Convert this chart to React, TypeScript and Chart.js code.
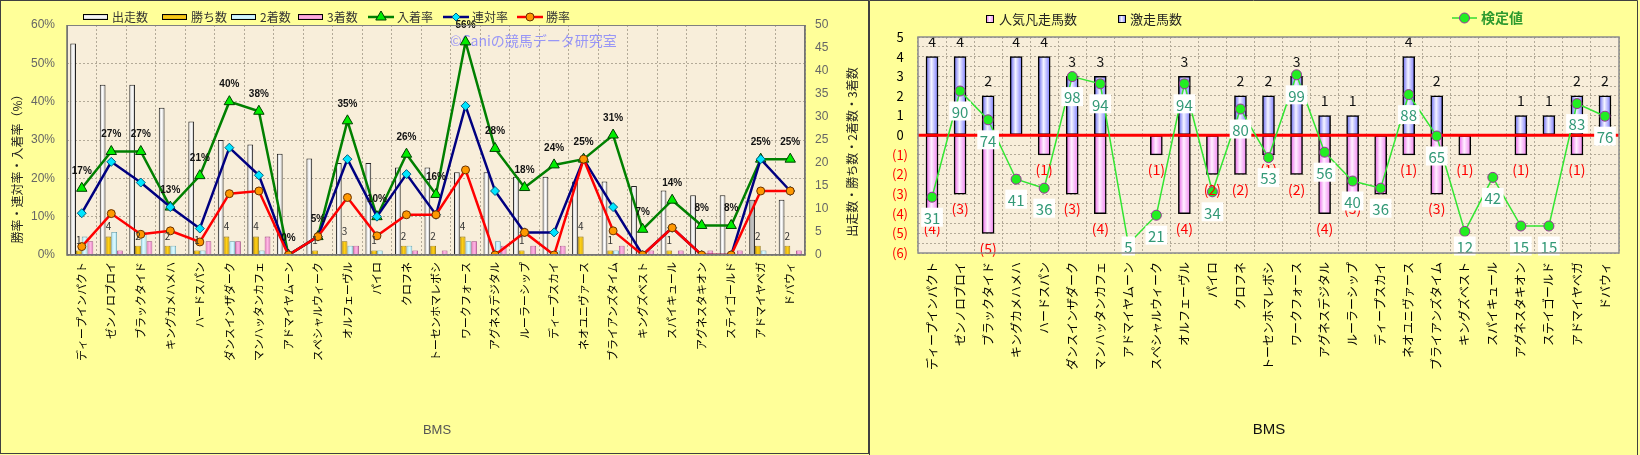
import React, { useEffect, useRef } from "react";
import { Chart, registerables } from "chart.js";
Chart.register(...registerables);

// ---------------- data ----------------
const categories = [
  "ディープインパクト", "ゼンノロブロイ", "ブラックタイド", "キングカメハメハ", "ハードスパン",
  "ダンスインザダーク", "マンハッタンカフェ", "アドマイヤムーン", "スペシャルウィーク", "オルフェーヴル",
  "パイロ", "クロフネ", "トーセンホマレボシ", "ワークフォース", "アグネスデジタル",
  "ルーラーシップ", "ディープスカイ", "ネオユニヴァース", "ブライアンズタイム", "キングズベスト",
  "スパイキュール", "アグネスタキオン", "ステイゴールド", "アドマイヤベガ", "ドバウィ",
];

// left chart (counts on right axis)
const starts = [46, 37, 37, 32, 29, 25, 24, 22, 21, 20, 20, 19, 19, 18, 18, 17, 17, 16, 16, 15, 14, 13, 13, 12, 12];
const wins = [1, 4, 2, 2, 1, 4, 4, 0, 1, 3, 1, 2, 2, 4, 0, 1, 0, 4, 1, 0, 1, 0, 0, 2, 2];
const seconds = [4, 5, 5, 2, 1, 3, 1, 0, 0, 2, 1, 2, 0, 3, 3, 0, 1, 0, 1, 0, 0, 0, 0, 1, 0];
const thirds = [3, 1, 3, 0, 3, 3, 4, 0, 0, 2, 0, 1, 1, 3, 2, 2, 2, 0, 2, 1, 1, 1, 1, 0, 1];
// left chart (rates, %)
const placeRate = [17.4, 27.0, 27.0, 12.5, 20.7, 40.0, 37.5, 0, 4.8, 35.0, 10.0, 26.3, 15.8, 55.6, 27.8, 17.6, 23.5, 25.0, 31.3, 6.7, 14.3, 7.7, 7.7, 25.0, 25.0];
const placeRateLabels = [17, 27, 27, 13, 21, 40, 38, 0, 5, 35, 10, 26, 16, 56, 28, 18, 24, 25, 31, 7, 14, 8, 8, 25, 25];
const top2Rate = [10.9, 24.3, 18.9, 12.5, 6.9, 28.0, 20.8, 0, 4.8, 25.0, 10.0, 21.1, 10.5, 38.9, 16.7, 5.9, 5.9, 25.0, 12.5, 0, 7.1, 0, 0, 25.0, 16.7];
const winRate = [2.2, 10.8, 5.4, 6.3, 3.4, 16.0, 16.7, 0, 4.8, 15.0, 5.0, 10.5, 10.5, 22.2, 0, 5.9, 0, 25.0, 6.3, 0, 7.1, 0, 0, 16.7, 16.7];
const leftPctTicks = [0, 10, 20, 30, 40, 50, 60];
const leftCountTicks = [0, 5, 10, 15, 20, 25, 30, 35, 40, 45, 50];

// right chart
const hotRuns = [4, 4, 2, 4, 4, 3, 3, 0, 0, 3, 0, 2, 2, 3, 1, 1, 0, 4, 2, 0, 0, 1, 1, 2, 2];
const popularFlops = [-4, -3, -5, 0, -1, -3, -4, 0, -1, -4, -2, -2, -1, -2, -4, -3, -3, -1, -3, -1, 0, -1, 0, -1, 0];
const kentei = [31, 90, 74, 41, 36, 98, 94, 5, 21, 94, 34, 80, 53, 99, 56, 40, 36, 88, 65, 12, 42, 15, 15, 83, 76];

// ---------------- styles ----------------
const JP = "'Noto Sans CJK JP', 'Noto Sans', sans-serif";
const PLOT_BG = "#F8EEDA";
const GRID = "#B3AA98";

type Stops = [number, string][];
function hGrad(ctx: CanvasRenderingContext2D, x0: number, x1: number, stops: Stops) {
  const g = ctx.createLinearGradient(x0, 0, x1, 0);
  stops.forEach(([o, c]) => g.addColorStop(o, c));
  return g;
}

const CAT_PCT = 0.78;
function leftBarFill(k: number, stops: Stops, alt?: { index: number; stops: Stops }) {
  return (c: any) => {
    const chart = c.chart;
    const xs = chart.scales && chart.scales.x;
    if (!xs || c.type !== "data" || !chart.chartArea) return stops[1][1];
    const W = (xs.right - xs.left) / categories.length;
    const cx = xs.getPixelForValue(c.dataIndex);
    const bw = (W * CAT_PCT) / 4;
    const l = cx - (W * CAT_PCT) / 2 + bw * k;
    const s = alt && alt.index === c.dataIndex ? alt.stops : stops;
    return hGrad(chart.ctx, l, l + bw, s);
  };
}

function rightBarFill(stops: Stops, half: number) {
  return (c: any) => {
    const chart = c.chart;
    const xs = chart.scales && chart.scales.x;
    if (!xs || c.type !== "data" || !chart.chartArea) return stops[1][1];
    const cx = xs.getPixelForValue(c.dataIndex);
    return hGrad(chart.ctx, cx - half, cx + half, stops);
  };
}

function drawMarker(ctx: CanvasRenderingContext2D, kind: string, x: number, y: number, r: number, fill: string, stroke: string) {
  ctx.save();
  ctx.beginPath();
  if (kind === "triangle") {
    ctx.moveTo(x, y - r);
    ctx.lineTo(x + r * 0.87, y + r * 0.5);
    ctx.lineTo(x - r * 0.87, y + r * 0.5);
    ctx.closePath();
  } else if (kind === "diamond") {
    ctx.moveTo(x, y - r);
    ctx.lineTo(x + r, y);
    ctx.lineTo(x, y + r);
    ctx.lineTo(x - r, y);
    ctx.closePath();
  } else {
    ctx.arc(x, y, r, 0, Math.PI * 2);
  }
  ctx.fillStyle = fill;
  ctx.fill();
  ctx.strokeStyle = stroke;
  ctx.lineWidth = 1;
  ctx.stroke();
  ctx.restore();
}

const WHITE_BAR: Stops = [[0, "#C4C4C4"], [0.5, "#FFFFFF"], [1, "#B4B4B4"]];
const GRAY_BAR: Stops = [[0, "#8C8C8C"], [0.5, "#C8C8C8"], [1, "#9A9A9A"]];
const GOLD_BAR: Stops = [[0, "#C89800"], [0.5, "#FFD21A"], [1, "#D0A000"]];
const CYAN_BAR: Stops = [[0, "#9ADCF0"], [0.5, "#E0FAFF"], [1, "#A0E0F0"]];
const PINK_BAR: Stops = [[0, "#E070B8"], [0.5, "#FFB8E4"], [1, "#E078C0"]];
const BLUE_R: Stops = [[0, "#6060F0"], [0.45, "#F4F4FF"], [1, "#7878FF"]];
const PINK_R: Stops = [[0, "#E860E8"], [0.45, "#FFF0FF"], [1, "#F080F0"]];

// ---------------- left chart ----------------
const leftPlugin = {
  id: "leftDecor",
  beforeDraw(chart: any) {
    const { ctx, chartArea: a } = chart;
    ctx.save();
    ctx.fillStyle = PLOT_BG;
    ctx.fillRect(a.left, a.top, a.right - a.left, a.bottom - a.top);
    ctx.restore();
  },
  beforeDatasetsDraw(chart: any) {
    const { ctx } = chart;
    ctx.save();
    ctx.font = `14px ${JP}`;
    ctx.fillStyle = "rgba(120,120,255,0.75)";
    ctx.textAlign = "left";
    ctx.textBaseline = "middle";
    ctx.fillText("©Caniの競馬データ研究室", 450, 41);
    ctx.restore();
  },
  afterDatasetsDraw(chart: any) {
    const { ctx } = chart;
    ctx.save();
    ctx.textAlign = "center";
    ctx.textBaseline = "middle";
    // win counts
    const mw = chart.getDatasetMeta(4);
    ctx.font = `10px ${JP}`;
    ctx.fillStyle = "#333";
    wins.forEach((v, i) => {
      if (v > 0) {
        const el = mw.data[i];
        ctx.fillText(String(v), el.x, el.y - 10);
      }
    });
    // place rate labels
    const mp = chart.getDatasetMeta(2);
    ctx.font = `bold 10px 'Liberation Sans', sans-serif`;
    ctx.fillStyle = "#111";
    placeRateLabels.forEach((v, i) => {
      const el = mp.data[i];
      ctx.fillText(`${v}%`, el.x, el.y - 17);
    });
    ctx.restore();
  },
  afterDraw(chart: any) {
    const { ctx, chartArea: a } = chart;
    ctx.save();
    // plot border
    ctx.strokeStyle = "#808080";
    ctx.lineWidth = 1;
    ctx.strokeRect(a.left + 0.5, a.top + 0.5, a.right - a.left - 1, a.bottom - a.top - 1);
    ctx.strokeStyle = "#707070";
    ctx.lineWidth = 1.5;
    ctx.beginPath();
    ctx.moveTo(a.left, a.top);
    ctx.lineTo(a.left, a.bottom);
    ctx.lineTo(a.right, a.bottom);
    ctx.lineTo(a.right, a.top);
    ctx.stroke();

    // legend
    ctx.textBaseline = "middle";
    ctx.textAlign = "left";
    ctx.font = `12px ${JP}`;
    const ly = 17;
    const barItems: [number, Stops, string][] = [
      [83, WHITE_BAR, "出走数"],
      [162, GOLD_BAR, "勝ち数"],
      [231, CYAN_BAR, "2着数"],
      [298, PINK_BAR, "3着数"],
    ];
    barItems.forEach(([x, st, t]) => {
      ctx.fillStyle = hGrad(ctx, x, x + 25, [[0, st[0][1]], [0.5, st[1][1]], [1, st[2][1]]]);
      const g = ctx.createLinearGradient(0, ly - 3, 0, ly + 3);
      g.addColorStop(0, st[0][1]);
      g.addColorStop(0.5, st[1][1]);
      g.addColorStop(1, st[2][1]);
      ctx.fillStyle = g;
      ctx.fillRect(x, ly - 3, 25, 6);
      ctx.strokeStyle = "#000";
      ctx.lineWidth = 1;
      ctx.strokeRect(x + 0.5, ly - 2.5, 24, 5);
      ctx.fillStyle = "#333";
      ctx.fillText(t, x + 29, ly);
    });
    const lineItems: [number, string, string, string, string, number, string][] = [
      [368, "#008000", "triangle", "#00EE00", "#004000", 6, "入着率"],
      [443, "#000080", "diamond", "#00E5FF", "#006080", 4, "連対率"],
      [517, "#FF0000", "circle", "#FF9900", "#6A3000", 4, "勝率"],
    ];
    lineItems.forEach(([x, col, kind, fill, stroke, r, t]) => {
      ctx.strokeStyle = col;
      ctx.lineWidth = 2.5;
      ctx.beginPath();
      ctx.moveTo(x, ly);
      ctx.lineTo(x + 26, ly);
      ctx.stroke();
      drawMarker(ctx, kind, x + 13, ly, r, fill, stroke);
      ctx.fillStyle = "#333";
      ctx.fillText(t, x + 29, ly);
    });

    // axis titles
    ctx.fillStyle = "#222";
    ctx.font = `12px ${JP}`;
    ctx.textAlign = "center";
    ctx.save();
    ctx.translate(17, 166);
    ctx.rotate(-Math.PI / 2);
    ctx.fillText("勝率・連対率・入着率（%）", 0, 0);
    ctx.restore();
    ctx.save();
    ctx.translate(852, 152);
    ctx.rotate(-Math.PI / 2);
    ctx.fillText("出走数・勝ち数・2着数・3着数", 0, 0);
    ctx.restore();

    ctx.fillStyle = "#555";
    ctx.font = `13px 'Liberation Sans', sans-serif`;
    ctx.fillText("BMS", 437, 430);

    // panel border
    ctx.strokeStyle = "#404040";
    ctx.lineWidth = 1;
    ctx.strokeRect(0.5, 0.5, chart.width - 1, chart.height - 2);
    ctx.restore();
  },
};

function makeLeft(canvas: HTMLCanvasElement) {
  return new Chart(canvas, {
    type: "bar",
    data: {
      labels: categories,
      datasets: [
        {
          type: "line", label: "勝率", data: winRate, yAxisID: "y", order: 0,
          borderColor: "#FF0000", borderWidth: 2.5, tension: 0,
          pointStyle: "circle", pointRadius: 4, pointBackgroundColor: "#FF9900",
          pointBorderColor: "#6A3000", pointBorderWidth: 1,
        } as any,
        {
          type: "line", label: "連対率", data: top2Rate, yAxisID: "y", order: 1,
          borderColor: "#000080", borderWidth: 2.5, tension: 0,
          pointStyle: "rectRot", pointRadius: 4.5, pointBackgroundColor: "#00E5FF",
          pointBorderColor: "#006080", pointBorderWidth: 1,
        } as any,
        {
          type: "line", label: "入着率", data: placeRate, yAxisID: "y", order: 2,
          borderColor: "#008000", borderWidth: 2.5, tension: 0,
          pointStyle: "triangle", pointRadius: 6, pointBackgroundColor: "#00EE00",
          pointBorderColor: "#004000", pointBorderWidth: 1,
        } as any,
        {
          type: "bar", label: "出走数", data: starts, yAxisID: "y1", order: 3,
          backgroundColor: leftBarFill(0, WHITE_BAR, { index: 23, stops: GRAY_BAR }),
          borderColor: "#222", borderWidth: 1,
          categoryPercentage: CAT_PCT, barPercentage: 1,
        } as any,
        {
          type: "bar", label: "勝ち数", data: wins, yAxisID: "y1", order: 4,
          backgroundColor: leftBarFill(1, GOLD_BAR), borderColor: "#8A6A00", borderWidth: 0.8,
          categoryPercentage: CAT_PCT, barPercentage: 1,
        } as any,
        {
          type: "bar", label: "2着数", data: seconds, yAxisID: "y1", order: 5,
          backgroundColor: leftBarFill(2, CYAN_BAR), borderColor: "#5A98A8", borderWidth: 0.8,
          categoryPercentage: CAT_PCT, barPercentage: 1,
        } as any,
        {
          type: "bar", label: "3着数", data: thirds, yAxisID: "y1", order: 6,
          backgroundColor: leftBarFill(3, PINK_BAR), borderColor: "#9A4080", borderWidth: 0.8,
          categoryPercentage: CAT_PCT, barPercentage: 1,
        } as any,
      ],
    },
    options: {
      responsive: false,
      animation: false,
      devicePixelRatio: 1,
      layout: { padding: { left: 0, right: 0, top: 25, bottom: 0 } },
      plugins: { legend: { display: false }, tooltip: { enabled: false }, title: { display: false } },
      scales: {
        x: {
          offset: true,
          grid: { offset: true, color: GRID, lineWidth: 1, drawTicks: false },
          border: { display: false, dash: [2, 2] },
          ticks: {
            autoSkip: false, maxRotation: 90, minRotation: 90, padding: 7,
            color: "#000", font: { family: JP, size: 11 },
          },
          afterFit: (s: any) => { s.height = 455 - 255; },
        },
        y: {
          position: "left", min: leftPctTicks[0], max: leftPctTicks[leftPctTicks.length - 1],
          afterBuildTicks: (s: any) => { s.ticks = leftPctTicks.map((v) => ({ value: v })); },
          ticks: { callback: (v: any) => `${v}%`, padding: 12, color: "#666", font: { family: "'Liberation Sans', sans-serif", size: 12 } },
          grid: { color: GRID, drawTicks: false, lineWidth: 1 },
          border: { display: false, dash: [2, 2] },
          afterFit: (s: any) => { s.width = 67; },
        },
        y1: {
          position: "right", min: leftCountTicks[0], max: leftCountTicks[leftCountTicks.length - 1],
          afterBuildTicks: (s: any) => { s.ticks = leftCountTicks.map((v) => ({ value: v })); },
          ticks: { padding: 10, color: "#666", font: { family: "'Liberation Sans', sans-serif", size: 12 } },
          grid: { display: false, drawTicks: false },
          border: { display: false },
          afterFit: (s: any) => { s.width = 869 - 805; },
        },
      },
    } as any,
    plugins: [leftPlugin],
  });
}

// ---------------- right chart ----------------
const rightPlugin = {
  id: "rightDecor",
  beforeDraw(chart: any) {
    const { ctx, chartArea: a } = chart;
    ctx.save();
    ctx.fillStyle = PLOT_BG;
    ctx.fillRect(a.left, a.top, a.right - a.left, a.bottom - a.top);
    ctx.restore();
  },
  beforeDatasetDraw(chart: any, args: any) {
    if (args.index !== 0) return;
    const { ctx, chartArea: a } = chart;
    const y0 = chart.scales.y.getPixelForValue(0);
    ctx.save();
    ctx.strokeStyle = "#FF0000";
    ctx.lineWidth = 3;
    ctx.beginPath();
    ctx.moveTo(a.left, y0);
    ctx.lineTo(a.right, y0);
    ctx.stroke();
    ctx.restore();
  },
  afterDatasetsDraw(chart: any) {
    const { ctx } = chart;
    const ys = chart.scales.y;
    const xs = chart.scales.x;
    ctx.save();
    ctx.textAlign = "center";
    ctx.textBaseline = "middle";
    ctx.font = `14px ${JP}`;
    hotRuns.forEach((v, i) => {
      if (v > 0) {
        ctx.fillStyle = "#111";
        ctx.fillText(String(v), xs.getPixelForValue(i), ys.getPixelForValue(v) - 15);
      }
    });
    popularFlops.forEach((v, i) => {
      if (v < 0) {
        ctx.fillStyle = "#FF0000";
        ctx.fillText(`(${-v})`, xs.getPixelForValue(i), ys.getPixelForValue(v) + 15);
      }
    });
    // line labels
    const ml = chart.getDatasetMeta(0);
    ctx.font = `15px ${JP}`;
    kentei.forEach((v, i) => {
      const el = ml.data[i];
      const t = String(v);
      const w = ctx.measureText(t).width + 5;
      const h = 19;
      const cy = Math.min(el.y + 20, 246);
      ctx.fillStyle = "#FFFFFF";
      ctx.fillRect(el.x - w / 2, cy - h / 2, w, h);
      ctx.fillStyle = "#339977";
      ctx.fillText(t, el.x, cy + 1);
    });
    ctx.restore();
  },
  afterDraw(chart: any) {
    const { ctx, chartArea: a } = chart;
    ctx.save();
    ctx.strokeStyle = "#8C8C8C";
    ctx.lineWidth = 1.5;
    ctx.strokeRect(a.left, a.top, a.right - a.left, a.bottom - a.top);

    // legend
    ctx.textBaseline = "middle";
    ctx.textAlign = "left";
    ctx.font = `13px ${JP}`;
    const ly = 19;
    const sq = (x: number, fill: Stops) => {
      const g = hGrad(ctx, x - 4, x + 4, fill);
      ctx.fillStyle = g;
      ctx.fillRect(x - 4, ly - 4, 8, 8);
      ctx.strokeStyle = "#000";
      ctx.lineWidth = 1;
      ctx.strokeRect(x - 3.5, ly - 3.5, 7, 7);
    };
    sq(121, PINK_R);
    ctx.fillStyle = "#222";
    ctx.fillText("人気凡走馬数", 130, ly);
    sq(253, BLUE_R);
    ctx.fillStyle = "#222";
    ctx.fillText("激走馬数", 261, ly);
    ctx.strokeStyle = "#33DD33";
    ctx.lineWidth = 1.5;
    ctx.beginPath();
    ctx.moveTo(583, 18);
    ctx.lineTo(608, 18);
    ctx.stroke();
    drawMarker(ctx, "circle", 595.5, 18, 5, "#22EE22", "#993399");
    ctx.font = `bold 14px ${JP}`;
    ctx.fillStyle = "#2E9A2E";
    ctx.fillText("検定値", 612, 18);

    ctx.font = `15px 'Liberation Sans', sans-serif`;
    ctx.fillStyle = "#111";
    ctx.textAlign = "center";
    ctx.fillText("BMS", 400, 430);

    // panel border (left, top, right)
    ctx.strokeStyle = "#404040";
    ctx.lineWidth = 1;
    ctx.beginPath();
    ctx.moveTo(0.5, chart.height);
    ctx.lineTo(0.5, 0.5);
    ctx.lineTo(768.5, 0.5);
    ctx.lineTo(768.5, chart.height);
    ctx.stroke();
    ctx.restore();
  },
};

function makeRight(canvas: HTMLCanvasElement) {
  return new Chart(canvas, {
    type: "bar",
    data: {
      labels: categories,
      datasets: [
        {
          type: "line", label: "検定値", data: kentei, yAxisID: "y2", order: 0,
          borderColor: "#33E633", borderWidth: 1.5, tension: 0,
          pointStyle: "circle", pointRadius: 5, pointBackgroundColor: "#22EE22",
          pointBorderColor: "#993399", pointBorderWidth: 1,
        } as any,
        {
          type: "bar", label: "激走馬数", data: hotRuns, yAxisID: "y", order: 1, stack: "s",
          backgroundColor: rightBarFill(BLUE_R, 6), borderColor: "#000", borderWidth: 1.5,
          borderSkipped: false, barThickness: 12,
        } as any,
        {
          type: "bar", label: "人気凡走馬数", data: popularFlops, yAxisID: "y", order: 2, stack: "s",
          backgroundColor: rightBarFill(PINK_R, 6), borderColor: "#000", borderWidth: 1.5,
          borderSkipped: false, barThickness: 12,
        } as any,
      ],
    },
    options: {
      responsive: false,
      animation: false,
      devicePixelRatio: 1,
      layout: { padding: { left: 0, right: 771 - 750, top: 37, bottom: 0 } },
      plugins: { legend: { display: false }, tooltip: { enabled: false }, title: { display: false } },
      scales: {
        x: {
          stacked: true,
          offset: true,
          grid: { offset: true, color: GRID, lineWidth: 1, drawTicks: false },
          border: { display: false, dash: [2, 2] },
          ticks: {
            autoSkip: false, maxRotation: 90, minRotation: 90, padding: 9,
            color: "#000", font: { family: JP, size: 12 },
          },
          afterFit: (s: any) => { s.height = 455 - 253; },
        },
        y: {
          stacked: true,
          position: "left", min: -6, max: 5,
          ticks: {
            stepSize: 0.5, autoSkip: false, padding: 10, crossAlign: "center",
            callback: (v: any) => (Number.isInteger(v) ? (v < 0 ? `(${-v})` : `${v}`) : ""),
            color: (c: any) => (c.tick && c.tick.value < 0 ? "#FF0000" : "#000000"),
            font: { family: JP, size: 13 },
          },
          grid: { color: GRID, drawTicks: false, lineWidth: 1 },
          border: { display: false, dash: [2, 2] },
          afterFit: (s: any) => { s.width = 49; },
        },
        y2: { display: false, min: 0, max: 120 },
      },
    } as any,
    plugins: [rightPlugin],
  });
}

export default function App() {
  const leftRef = useRef<HTMLCanvasElement>(null);
  const rightRef = useRef<HTMLCanvasElement>(null);
  useEffect(() => {
    const c1 = makeLeft(leftRef.current!);
    const c2 = makeRight(rightRef.current!);
    return () => {
      c1.destroy();
      c2.destroy();
    };
  }, []);
  return (
    <div style={{ position: "absolute", left: 0, top: 0, width: 1640, height: 455, background: "#fff", overflow: "hidden" }}>
      <div style={{ position: "absolute", left: 0, top: 0, width: 869, height: 455, background: "#FFFF99" }}>
        <canvas ref={leftRef} width={869} height={455} style={{ display: "block", width: 869, height: 455 }} />
      </div>
      <div style={{ position: "absolute", left: 869, top: 0, width: 771, height: 455, background: "#FFFF99" }}>
        <canvas ref={rightRef} width={771} height={455} style={{ display: "block", width: 771, height: 455 }} />
      </div>
    </div>
  );
}
